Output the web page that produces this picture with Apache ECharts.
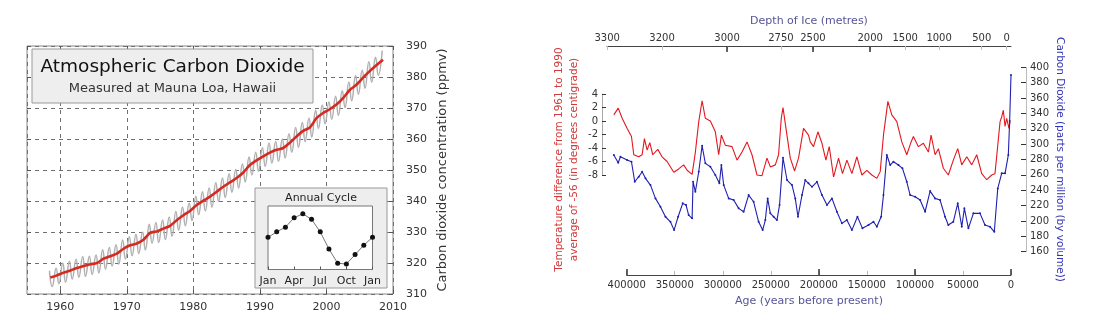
<!DOCTYPE html>
<html><head><meta charset="utf-8">
<script src="https://cdn.jsdelivr.net/npm/echarts@6/dist/echarts.min.js"></script>
<style>html,body{margin:0;padding:0;background:#fff}#c{width:1100px;height:326px}</style>
</head><body><div id="c"></div>
<script>
// ---- Left chart: Mauna Loa CO2 ----
const mlYears = [1958,1959,1960,1961,1962,1963,1964,1965,1966,1967,1968,1969,1970,1971,1972,1973,1974,1975,1976,1977,1978,1979,1980,1981,1982,1983,1984,1985,1986,1987,1988,1989,1990,1991,1992,1993,1994,1995,1996,1997,1998,1999,2000,2001,2002,2003,2004,2005,2006,2007,2008];
const mlAnnual = [315.3,316.0,316.9,317.6,318.4,319.0,319.6,320.0,321.4,322.2,323.0,324.6,325.7,326.3,327.5,329.7,330.2,331.1,332.0,333.8,335.4,336.8,338.7,340.1,341.4,343.0,344.6,346.0,347.4,349.2,351.6,353.1,354.4,355.6,356.5,357.1,358.8,360.8,362.6,363.7,366.7,368.4,369.6,371.1,373.2,375.8,377.5,379.8,381.9,383.8,385.6];
const mlMayPeak = [317.5,318.3,320.0,320.6,321.2,322.1,322.2,322.6,324.3,325.0,325.9,327.4,328.5,329.3,330.0,332.5,333.1,333.9,334.8,336.6,338.1,339.3,341.5,343.0,344.2,345.9,347.4,348.8,350.2,351.9,354.2,355.7,357.2,358.7,359.2,360.0,361.7,363.7,365.3,366.7,369.3,371.0,371.9,373.8,375.6,378.4,380.5,382.2,384.9,386.4,388.5];
const mlOctLow = [312.4,313.3,313.8,314.8,315.4,315.7,316.3,316.8,318.0,319.0,319.6,321.2,322.3,323.1,324.2,326.4,326.6,327.6,328.6,330.6,332.0,333.7,335.6,336.8,338.0,339.9,341.1,342.8,344.2,346.1,348.4,349.6,351.2,352.2,352.8,353.9,355.7,357.3,359.2,360.6,363.4,364.9,366.4,367.6,370.1,372.3,374.4,376.4,378.3,380.6,null];
const MAY_FRAC = 4.5/12, OCT_FRAC = 9.5/12, MID_FRAC = 0.5;

const cycleMonths = ['Jan','Feb','Mar','Apr','May','Jun','Jul','Aug','Sep','Oct','Nov','Dec','Jan'];
const cycleValues = [0.2,0.9,1.5,2.7,3.2,2.5,0.9,-1.3,-3.1,-3.2,-2.0,-0.8,0.2];

// ---- Right chart: Vostok ice core ----
const tempAge = [413900,409300,405200,400000,395500,393100,387900,384400,382000,379200,376400,373300,368100,363600,358400,351400,346300,341100,337500,332300,328900,325400,321900,318500,313300,308100,304600,301800,297700,290700,285500,280300,275100,269900,264700,259500,254300,250800,245600,242200,239400,237600,234500,230000,225500,221400,216200,211000,209200,205800,201200,197000,192900,189400,184900,179700,175600,171000,165800,160600,155400,150200,145000,139800,136300,132900,128300,124200,119000,113800,108600,104100,101700,96500,91300,86100,83300,79100,75700,70500,65300,60100,55500,51300,46100,40900,35700,30500,25300,20100,16700,13800,11400,9700,8000,6200,4500,2100,1000];
const tempVal = [0.9,1.9,0.4,-1.1,-2.3,-5.0,-5.3,-5.0,-2.6,-4.3,-3.2,-5.0,-4.2,-5.3,-6.0,-7.6,-7.1,-6.5,-7.3,-7.9,-4.6,-0.1,3.0,0.4,0.0,-1.6,-5.0,-2.1,-3.6,-3.8,-5.8,-4.6,-3.1,-5.0,-8.0,-8.1,-5.5,-6.8,-6.5,-5.0,0.4,2.0,-1.1,-5.5,-7.4,-5.5,-1.1,-2.1,-3.1,-3.8,-1.6,-3.3,-5.8,-3.8,-8.3,-5.5,-7.8,-5.8,-7.8,-5.3,-8.0,-7.3,-8.0,-8.5,-7.5,-2.1,2.9,0.9,-0.1,-3.1,-5.0,-3.1,-2.3,-3.8,-3.3,-4.6,-2.1,-5.0,-4.1,-7.0,-8.0,-5.8,-4.1,-6.5,-5.3,-6.5,-5.0,-7.8,-8.7,-8.0,-7.8,-3.6,-0.1,0.6,1.6,-0.8,0.4,-1.1,-0.1];
const co2Age = [413900,409300,407000,400000,395500,392100,387900,384400,380900,375700,370500,365300,360100,354900,351100,346900,342100,338600,335900,332300,331300,328900,325400,321900,318500,313300,308100,303900,301800,299400,294200,289000,283800,278600,273400,268200,263000,258800,256000,253600,250800,247400,243900,241200,237600,233400,228200,224800,222000,217800,214400,211000,207400,202200,197000,191800,186600,181400,176200,171000,165800,160000,154800,148500,143300,139800,135300,132900,129400,125900,122500,117300,113100,108600,105100,99900,94700,89500,84300,79100,73900,68700,65300,60100,55500,51300,48600,44400,39200,32300,27100,21900,17400,13800,9700,6200,2800,1400,0];
const co2Val = [285.8,275.8,283.6,279.3,277.1,251.0,257.6,264.1,255.5,246.7,229.4,218.5,205.5,198.9,188.1,205.5,222.9,220.7,207.7,203.4,251.0,238.0,264.1,297.9,275.0,270.6,259.8,249.0,272.8,246.7,229.4,227.2,216.4,212.0,233.7,225.0,198.9,188.1,201.2,229.4,209.9,205.5,201.2,220.7,282.3,253.3,246.7,229.4,205.5,233.7,253.3,249.0,244.5,251.0,233.7,220.7,229.4,212.0,196.9,201.2,188.1,205.5,190.4,194.7,198.9,192.5,205.5,233.7,285.8,272.8,277.1,272.8,268.5,251.0,233.7,231.5,227.2,212.0,238.9,229.4,227.2,205.5,194.7,198.9,222.9,192.5,216.4,190.4,209.9,209.9,194.7,192.5,185.9,242.4,262.0,262.0,285.8,330.0,390.0];
const depthLabels = ['3300','3200','3000','2750','2500','2000','1500','1000','500','0'];
const depthAges = [420800,363600,295900,239700,206400,146800,110300,74900,30500,4500];
const depthMajorAges = [295900,206400,146800];
const ageMajorTicks = [400000,200000,100000,0];

// ---- build series data ----
const grayData = [];
mlYears.forEach((y,i)=>{
  if (mlMayPeak[i]!=null) grayData.push([y+MAY_FRAC, mlMayPeak[i]]);
  if (mlOctLow[i]!=null) grayData.push([y+OCT_FRAC, mlOctLow[i]]);
});
const redData = mlYears.map((y,i)=>[y+MID_FRAC, mlAnnual[i]]);
const tempData = tempAge.map((a,i)=>[a,tempVal[i]]);
const co2Data = co2Age.map((a,i)=>[a,co2Val[i]]);

const F = 'DejaVu Sans';
const AGE_MAX = 421000;
const plain = v => String(v);

const option = {
  animation:false,
  backgroundColor:'#fff',
  textStyle:{fontFamily:F},
  grid:[
    {left:27, top:46, width:366, height:248, show:true, backgroundColor:'#fff', borderColor:'#8a8a8a', borderWidth:1, z:0},
    {left:268, top:206, width:104.5, height:63.5, show:true, backgroundColor:'#fff', borderColor:'#777', borderWidth:1, z:11},
    {left:607, top:94, width:404, height:81},
    {left:607, top:67.3, width:404, height:184.4},
    {left:626.7, top:200, width:384.3, height:75}
  ],
  xAxis:[
    {gridIndex:0, type:'value', min:1955, max:2010, position:'bottom',
      axisLine:{show:false, onZero:false}, axisTick:{show:true, inside:true, length:4, lineStyle:{color:'#555'}},
      axisLabel:{fontSize:11, color:'#333', margin:8, showMinLabel:false, formatter:plain},
      splitLine:{show:true, lineStyle:{color:'#707070', type:[4,4], width:1}}},
    {gridIndex:0, type:'value', min:1955, max:2010, position:'top',
      axisLine:{show:false, onZero:false}, axisTick:{show:true, inside:true, length:4, lineStyle:{color:'#555'}},
      axisLabel:{show:false}, splitLine:{show:false}},
    {gridIndex:1, type:'category', data:cycleMonths, boundaryGap:false, z:12,
      axisLine:{show:false, onZero:false}, axisTick:{show:true, inside:true, length:3, interval:2, lineStyle:{color:'#555'}},
      axisLabel:{interval:2, fontSize:11, color:'#222', margin:6}, splitLine:{show:false}},
    {gridIndex:2, type:'value', min:0, max:AGE_MAX, inverse:true, show:false},
    {gridIndex:3, type:'value', min:0, max:AGE_MAX, inverse:true, position:'bottom',
      axisLine:{show:false, onZero:false}, axisTick:{show:false}, axisLabel:{show:false}, splitLine:{show:false},
      name:'Age (years before present)', nameLocation:'middle', nameGap:44,
      nameTextStyle:{fontSize:11, color:'#55559a', fontFamily:F}},
    {gridIndex:3, type:'value', min:0, max:AGE_MAX, inverse:true, position:'top', offset:21.3,
      axisLine:{show:true, onZero:false, lineStyle:{color:'#444', width:1}},
      axisTick:{show:true, inside:true, length:4, customValues:depthAges, lineStyle:{color:'#bbb'}},
      axisLabel:{show:true, customValues:depthAges, fontSize:10, color:'#333', margin:3,
        formatter:v=>{const i=depthAges.findIndex(a=>Math.abs(a-v)<1); return i>=0?depthLabels[i]:'';}},
      splitLine:{show:false},
      name:'Depth of Ice (metres)', nameLocation:'middle', nameGap:19,
      nameTextStyle:{fontSize:11, color:'#55559a', fontFamily:F}},
    {gridIndex:3, type:'value', min:0, max:AGE_MAX, inverse:true, position:'top', offset:21.3,
      axisLine:{show:false, onZero:false},
      axisTick:{show:true, inside:true, length:6, customValues:depthMajorAges, lineStyle:{color:'#333', width:1.5}},
      axisLabel:{show:false}, splitLine:{show:false}},
    {gridIndex:4, type:'value', min:0, max:400000, interval:50000, inverse:true, position:'bottom',
      axisLine:{show:true, onZero:false, lineStyle:{color:'#444'}},
      axisTick:{show:true, inside:true, length:4, lineStyle:{color:'#bbb'}},
      axisLabel:{fontSize:10, color:'#333', margin:5, formatter:plain}, splitLine:{show:false}},
    {gridIndex:4, type:'value', min:0, max:400000, inverse:true, position:'bottom',
      axisLine:{show:false, onZero:false},
      axisTick:{show:true, inside:true, length:6, customValues:ageMajorTicks, lineStyle:{color:'#333', width:1.5}},
      axisLabel:{show:false}, splitLine:{show:false}}
  ],
  yAxis:[
    {gridIndex:0, type:'value', min:310, max:390, interval:10, position:'right',
      axisLine:{show:false, onZero:false}, axisTick:{show:true, inside:true, length:4, lineStyle:{color:'#555'}},
      axisLabel:{fontSize:11, color:'#333', margin:13},
      splitLine:{show:true, lineStyle:{color:'#707070', type:[4,4], width:1}},
      name:'Carbon dioxide concentration (ppmv)', nameLocation:'middle', nameGap:43, nameRotate:90,
      nameTextStyle:{fontSize:13, color:'#333', fontFamily:F}},
    {gridIndex:0, type:'value', min:310, max:390, interval:10, position:'left',
      axisLine:{show:false, onZero:false}, axisTick:{show:true, inside:true, length:4, lineStyle:{color:'#555'}},
      axisLabel:{show:false}, splitLine:{show:false}},
    {gridIndex:1, type:'value', min:-3.9, max:4.2, z:12,
      axisLine:{show:false, onZero:false}, axisTick:{show:false}, axisLabel:{show:false}, splitLine:{show:false}},
    {gridIndex:2, type:'value', min:-8, max:4, interval:2, position:'left', offset:5,
      axisLine:{show:true, onZero:false, lineStyle:{color:'#aaa'}},
      axisTick:{show:true, inside:true, length:4, lineStyle:{color:'#333'}},
      axisLabel:{fontSize:10, color:'#333', margin:4}, splitLine:{show:false}},
    {gridIndex:3, type:'value', min:160, max:400, interval:20, position:'right', offset:15,
      axisLine:{show:true, onZero:false, lineStyle:{color:'#bbb'}},
      axisTick:{show:true, inside:true, length:5, lineStyle:{color:'#333'}},
      axisLabel:{fontSize:10, color:'#333', margin:4}, splitLine:{show:false},
      name:'Carbon Dioxide (parts per million (by volume))', nameLocation:'middle', nameGap:28, nameRotate:-90,
      nameTextStyle:{fontSize:10.5, color:'#3434b8', fontFamily:F}},
    {gridIndex:3, type:'value', min:0, max:1, position:'left',
      axisLine:{show:false, onZero:false}, axisTick:{show:false}, axisLabel:{show:false}, splitLine:{show:false},
      name:'Temperature difference from 1961 to 1990\naverage of -56 (in degrees centigrade)',
      nameLocation:'middle', nameGap:25, nameRotate:90,
      nameTextStyle:{fontSize:10.5, lineHeight:15, color:'#d03a3a', fontFamily:F, align:'center'}},
    {gridIndex:4, type:'value', min:0, max:1, show:false}
  ],
  graphic:[
    {type:'rect', z:10, shape:{x:32, y:49, width:281, height:54}, style:{fill:'#eeeeee', stroke:'#999', lineWidth:1}},
    {type:'text', z:11, x:172.5, y:67, style:{text:'Atmospheric Carbon Dioxide', font:'18.5px "DejaVu Sans"', fill:'#111', align:'center', verticalAlign:'middle'}},
    {type:'text', z:11, x:172.5, y:89, style:{text:'Measured at Mauna Loa, Hawaii', font:'13px "DejaVu Sans"', fill:'#333', align:'center', verticalAlign:'middle'}},
    {type:'rect', z:10, shape:{x:255, y:188, width:132, height:100}, style:{fill:'#eeeeee', stroke:'#999', lineWidth:1}},
    {type:'text', z:11, x:321, y:198, style:{text:'Annual Cycle', font:'11px "DejaVu Sans"', fill:'#222', align:'center', verticalAlign:'middle'}}
  ],
  series:[
    {type:'line', xAxisIndex:0, yAxisIndex:0, data:grayData, smooth:0.5, showSymbol:false,
      lineStyle:{color:'#b0b0b0', width:1.5}, itemStyle:{color:'#b0b0b0'}, z:2},
    {type:'line', xAxisIndex:0, yAxisIndex:0, data:redData, smooth:0.3, showSymbol:false,
      lineStyle:{color:'#d42a22', width:2.6}, itemStyle:{color:'#d42a22'}, z:3},
    {type:'line', xAxisIndex:2, yAxisIndex:2, data:cycleValues, symbol:'circle', symbolSize:5,
      lineStyle:{color:'#777', width:1}, itemStyle:{color:'#111'}, z:12},
    {type:'line', xAxisIndex:3, yAxisIndex:3, data:tempData, showSymbol:false, clip:false,
      lineStyle:{color:'#e4171f', width:1.1}, itemStyle:{color:'#e4171f'}},
    {type:'line', xAxisIndex:4, yAxisIndex:4, data:co2Data, symbol:'circle', symbolSize:2, clip:false,
      lineStyle:{color:'#2020b0', width:1.1}, itemStyle:{color:'#2020b0'}}
  ]
};
const chart = echarts.init(document.getElementById('c'), null, {renderer:'canvas'});
chart.setOption(option);
</script></body></html>
